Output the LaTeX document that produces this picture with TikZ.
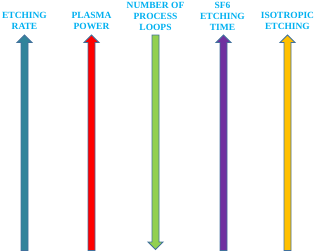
\documentclass[tikz,border=0pt]{standalone}
\usepackage{fontspec}
\setmainfont{Liberation Serif}
\definecolor{lbl}{HTML}{00B0F0}
\definecolor{edge}{HTML}{41719C}
\definecolor{cteal}{HTML}{31849B}
\definecolor{cred}{HTML}{FF0000}
\definecolor{cgreen}{HTML}{92D050}
\definecolor{cpurple}{HTML}{7030A0}
\definecolor{cgold}{HTML}{FFC000}
\begin{document}
\begin{tikzpicture}[x=1bp,y=-1bp,
  lab/.style={font=\fontsize{9.5}{11}\selectfont\bfseries, text=lbl, align=center, inner sep=0pt, anchor=base},
  arr/.style={draw=edge, line width=0.9bp, line join=miter}]
\useasboundingbox (0,0) rectangle (315,252);
% up arrows
\foreach \c/\col/\nm in {24.5/cteal/a, 91.5/cred/b, 223.5/cpurple/d, 287.5/cgold/e}{
  \fill[\col] (\c-3.5,250.5) -- (\c-3.5,42.5) -- (\c-7.5,42.5) -- (\c,35) -- (\c+7.5,42.5) -- (\c+3.5,42.5) -- (\c+3.5,250.5) -- cycle;
  \draw[arr] (\c-3.5,250.5) -- (\c-3.5,42.5) -- (\c-7.5,42.5) -- (\c,35) -- (\c+7.5,42.5) -- (\c+3.5,42.5) -- (\c+3.5,250.5) -- cycle;
}
% down arrow
\def\c{155.5}
\fill[cgreen] (\c-3.5,35) -- (\c-3.5,242) -- (\c-7.5,242) -- (\c,249.5) -- (\c+7.5,242) -- (\c+3.5,242) -- (\c+3.5,35) -- cycle;
\draw[arr] (\c-3.5,35) -- (\c-3.5,242) -- (\c-7.5,242) -- (\c,249.5) -- (\c+7.5,242) -- (\c+3.5,242) -- (\c+3.5,35) -- cycle;
% labels
\node[lab] (la) at (24.5,29.5) {ETCHING\\RATE};
\node[lab] (lb) at (91.5,29.5) {PLASMA\\POWER};
\node[lab] (lc) at (155.5,30) {NUMBER OF\\PROCESS\\LOOPS};
\node[lab] (ld) at (222.5,30) {SF6\\ETCHING\\TIME};
\node[lab] (le) at (287.5,29.5) {ISOTROPIC\\ETCHING};
\end{tikzpicture}
\end{document}
